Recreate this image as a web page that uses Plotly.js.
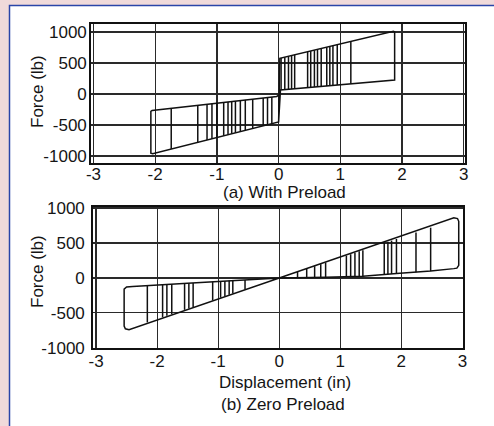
<!DOCTYPE html>
<html>
<head>
<meta charset="utf-8">
<script src="https://cdn.plot.ly/plotly-3.0.1.min.js"></script>
<style>html,body{margin:0;padding:0;background:#f0dada;}#chart{width:494px;height:426px;}</style>
</head>
<body>
<div id="chart"></div>
<script>
// ---------- Panel (a): With Preload ----------
// outer hysteresis loop path (displacement in, force lb)
const aOuterX = [0.00, 0.02, 1.86, 1.88, 1.88, 0.03, 0.00, -2.04, -2.07, -2.07, -2.05, -0.03, 0.00];
const aOuterY = [-450, 575, 1010, 1000, 225, 65, -450, -965, -955, -280, -265, -40, -20];
// inner cycle reversals: displacement, force at top, force at bottom
const aRevX   = [0.04, 0.10, 0.16, 0.21, 0.26, 0.47, 0.52, 0.58, 0.63, 0.69, 0.78, 0.83, 0.88, 0.95, 1.17,
                 -1.74, -1.31, -1.16, -1.08, -1.00, -0.89, -0.82, -0.76, -0.70, -0.62, -0.54, -0.42, -0.25, -0.18, -0.11];
const aRevTop = [580, 594, 608, 620, 632, 681, 693, 707, 719, 733, 754, 766, 778, 795, 846,
                 -237, -183, -166, -157, -148, -136, -128, -121, -114, -105, -96, -83, -65, -57, -49];
const aRevBot = [66, 71, 76, 80, 85, 103, 107, 113, 117, 122, 130, 134, 139, 145, 164,
                 -889, -781, -743, -723, -703, -675, -657, -642, -627, -607, -586, -556, -513, -495, -478];

// ---------- Panel (b): Zero Preload ----------
const bOuterX = [0.00, 2.86, 2.92, 2.94, 2.94, 2.91, 2.86, 2.48, 1.92, 1.37, 0.76, 0.00,
                 -2.46, -2.52, -2.54, -2.54, -2.50, -2.40, -1.50, -1.00, -0.56, 0.00];
const bOuterY = [0, 862, 850, 810, 180, 140, 133, 98, 62, 25, 10, 0,
                 -740, -728, -690, -160, -130, -122, -75, -50, -28, 0];
const bRevX   = [0.30, 0.45, 0.58, 0.68, 0.76, 1.10, 1.17, 1.24, 1.31, 1.37, 1.72, 1.78, 1.84, 1.92, 2.24, 2.48,
                 -2.16, -1.91, -1.84, -1.76, -1.55, -1.48, -1.41, -1.09, -0.96, -0.89, -0.82, -0.76, -0.56];
const bRevTop = [87, 131, 168, 197, 220, 319, 339, 360, 380, 397, 499, 516, 534, 557, 650, 719,
                 -108, -96, -92, -88, -78, -74, -71, -55, -48, -45, -41, -38, -28];
const bRevBot = [4, 6, 8, 9, 10, 17, 19, 21, 23, 25, 48, 52, 56, 62, 82, 98,
                 -637, -563, -543, -519, -457, -437, -416, -322, -283, -263, -242, -224, -165];

// ticks
const xTicks = [-3, -2, -1, 0, 1, 2, 3];
const xTickText = ['-3', '-2', '-1', '0', '1', '2', '3'];
const yTicks = [-1000, -500, 0, 500, 1000];
const yTickText = ['-1000', '-500', '0', '500', '1000'];

function segs(xs, tops, bots) {
  const x = [], y = [];
  for (let i = 0; i < xs.length; i++) { x.push(xs[i], xs[i], null); y.push(tops[i], bots[i], null); }
  return {x, y};
}

const lineStyle = {color: '#111', width: 1.5};
const sa = segs(aRevX, aRevTop, aRevBot);
const sb = segs(bRevX, bRevTop, bRevBot);

const traces = [
  {x: aOuterX, y: aOuterY, mode: 'lines', line: lineStyle, xaxis: 'x', yaxis: 'y', hoverinfo: 'skip'},
  {x: sa.x, y: sa.y, mode: 'lines', line: lineStyle, xaxis: 'x', yaxis: 'y', connectgaps: false, hoverinfo: 'skip'},
  {x: bOuterX, y: bOuterY, mode: 'lines', line: lineStyle, xaxis: 'x2', yaxis: 'y2', hoverinfo: 'skip'},
  {x: sb.x, y: sb.y, mode: 'lines', line: lineStyle, xaxis: 'x2', yaxis: 'y2', connectgaps: false, hoverinfo: 'skip'}
];

const W = 494, H = 426;
const font = {family: '"Liberation Sans", Arial, sans-serif', size: 17, color: '#151515'};
const axBase = {
  showline: true, mirror: true, linecolor: '#111', linewidth: 1.8,
  showgrid: true, gridcolor: '#2a2a2a', gridwidth: 1.2, zeroline: false,
  ticks: '', tickfont: font, fixedrange: true
};

const layout = {
  width: W, height: H,
  margin: {l: 0, r: 0, t: 0, b: 0},
  paper_bgcolor: '#f0dada', plot_bgcolor: 'rgba(0,0,0,0)',
  showlegend: false,
  xaxis: Object.assign({}, axBase, {domain: [91/W, 465/W], range: [-3.04, 3.02], tickvals: xTicks, ticktext: xTickText, anchor: 'y', ticklabelstandoff: -5}),
  yaxis: Object.assign({}, axBase, {domain: [1-163/H, 1-24/H], range: [-1113, 1129], tickvals: yTicks, ticktext: yTickText, anchor: 'x', ticklabelstandoff: -1}),
  xaxis2: Object.assign({}, axBase, {domain: [93/W, 463/W], range: [-3.05, 3.01], tickvals: xTicks, ticktext: xTickText, anchor: 'y2', ticklabelstandoff: -3}),
  yaxis2: Object.assign({}, axBase, {domain: [1-348/H, 1-207/H], range: [-1003, 1015], tickvals: yTicks, ticktext: yTickText, anchor: 'x2', ticklabelstandoff: 3}),
  shapes: [
    {type: 'rect', xref: 'paper', yref: 'paper', x0: 9.5/W, x1: 1.02, y0: -0.02, y1: 1-5.5/H,
     fillcolor: '#ffffff', line: {color: '#2a45a8', width: 1.5}, layer: 'below'}
  ],
  annotations: [
    {text: '(a) With Preload', xref: 'paper', yref: 'paper', x: 284/W, y: 1-192/H, showarrow: false, font: font, xanchor: 'center', yanchor: 'middle'},
    {text: 'Displacement (in)', xref: 'paper', yref: 'paper', x: 285/W, y: 1-382/H, showarrow: false, font: font, xanchor: 'center', yanchor: 'middle'},
    {text: '(b) Zero Preload', xref: 'paper', yref: 'paper', x: 283/W, y: 1-404/H, showarrow: false, font: font, xanchor: 'center', yanchor: 'middle'},
    {text: 'Force (lb)', xref: 'paper', yref: 'paper', x: 37/W, y: 1-92/H, textangle: -90, showarrow: false, font: font, xanchor: 'center', yanchor: 'middle'},
    {text: 'Force (lb)', xref: 'paper', yref: 'paper', x: 37/W, y: 1-272/H, textangle: -90, showarrow: false, font: font, xanchor: 'center', yanchor: 'middle'}
  ]
};

Plotly.newPlot('chart', traces, layout, {displayModeBar: false, staticPlot: true});
</script>
</body>
</html>
